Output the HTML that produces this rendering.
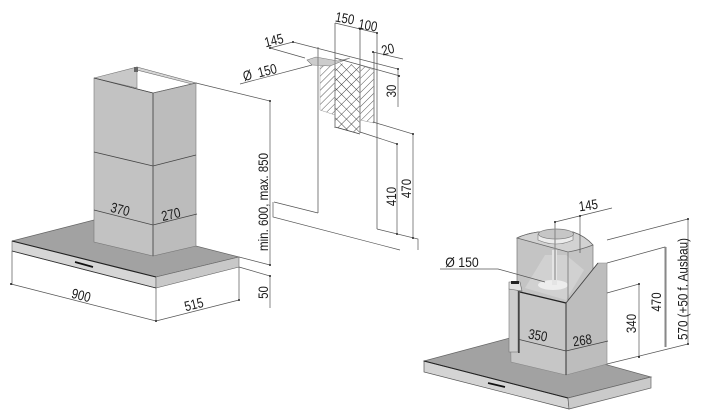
<!DOCTYPE html>
<html><head><meta charset="utf-8"><style>
html,body{margin:0;padding:0;background:#fff;width:701px;height:420px;overflow:hidden}
svg{display:block}
text{font-family:"Liberation Sans",sans-serif;font-size:14px;fill:#1a1a1a;text-anchor:middle}
.d{stroke:#555;stroke-width:.7;fill:none}
.l{stroke:#8a8a8a;stroke-width:1.1;fill:none}
.k{stroke:#444;stroke-width:.8;fill:none}
</style></head><body>
<svg width="701" height="420" viewBox="0 0 701 420">
<defs>
<pattern id="h1" width="5" height="5" patternUnits="userSpaceOnUse" patternTransform="rotate(45)"><rect width="5" height="5" fill="#fff"/><line x1="0" y1="0" x2="0" y2="5" stroke="#555" stroke-width="1"/></pattern>
<pattern id="h2" width="7" height="7" patternUnits="userSpaceOnUse" patternTransform="rotate(45)"><rect width="7" height="7" fill="#fff"/><path d="M0 0V7M0 0H7" stroke="#444" stroke-width="1"/></pattern>
</defs>

<!-- LEFT HOOD -->
<polygon points="12,241 94,220 239,257 156,277" fill="#a2a2a2" stroke="#666" stroke-width=".7"/>
<polygon points="12,241 156,277 156,288 12,251" fill="#d6d6d6" stroke="#666" stroke-width=".6"/>
<polygon points="156,277 239,257 239,267 156,288" fill="#c8c8c8" stroke="#666" stroke-width=".6"/>
<line x1="12" y1="241" x2="156" y2="277" stroke="#222" stroke-width="1.1"/>
<line x1="12" y1="251" x2="156" y2="288" stroke="#333" stroke-width=".9"/>
<line x1="75" y1="262" x2="93" y2="267" stroke="#111" stroke-width="1.7"/>
<polygon points="94,78 137,67 137,88" fill="#c8c8c8" stroke="#777" stroke-width=".6"/>
<polygon points="137,67 196,83 192,84 137,70" fill="#d5d5d5" stroke="#666" stroke-width=".6"/>
<polygon points="94,78 153,93 153,256 94,242" fill="#c2c2c2" stroke="#777" stroke-width=".6"/>
<polygon points="153,93 196,83 196,246 153,256" fill="#bcbcbc" stroke="#777" stroke-width=".6"/>
<polyline points="94,152 153,166 196,155" class="k"/>
<polyline points="94,210 153,225 197,214" class="k"/>
<rect x="134" y="67" width="4" height="5" fill="#666"/>
<line x1="94" y1="78" x2="153" y2="93" stroke="#444" stroke-width=".8"/>
<line x1="153" y1="93" x2="196" y2="83" stroke="#666" stroke-width=".7"/>
<line x1="153" y1="93" x2="153" y2="256" stroke="#555" stroke-width="1"/>

<!-- left dims -->
<path class="d" d="M196,83 L270,101 V265 M239,257 L270,265 M239,267 L270,276 V308"/>
<path class="d" d="M12,251 V285 M156,288 V322 M239,267 V300 M11,284 L156,321 L239,300"/>
<g fill="#222"><circle cx="270" cy="101" r="1"/><circle cx="270" cy="265" r="1"/><circle cx="270" cy="276" r="1"/><circle cx="156" cy="321" r="1"/><circle cx="11" cy="284" r="1"/><circle cx="239" cy="300" r="1"/></g>
<text transform="translate(119,214) rotate(14) scale(.82,1)">370</text>
<text transform="translate(172,219) rotate(-13) scale(.82,1)">270</text>
<text transform="translate(80,300) rotate(14) scale(.82,1)">900</text>
<text transform="translate(195,309) rotate(-14) scale(.82,1)">515</text>
<text transform="translate(268,202) rotate(-90)" textLength="98" lengthAdjust="spacingAndGlyphs">min. 600, max. 850</text>
<text transform="translate(268,292.5) rotate(-90) scale(.82,1)">50</text>

<!-- CENTER WALL -->
<polygon points="320,67 335,63 335,115 320,110" fill="url(#h1)" stroke="#999" stroke-width=".5"/>
<polygon points="360,65 374,70 374,123 360,120" fill="url(#h1)" stroke="#999" stroke-width=".5"/>
<polygon points="335,63 360,65 360,134 335,127" fill="url(#h2)"/>
<path d="M335,127 L360,134" stroke="#444" stroke-width=".9"/>
<path d="M307,60 L316,57 L338,61 L350,58 L330,66 L312,65 Z" fill="#ccc" stroke="#777" stroke-width=".6"/>
<path class="l" d="M335,23 V128 M360,29 V133 M377,33 V229 M374,52 V122 M318,47 V213"/>
<path class="d" d="M274,202 L318,213 M273,202 V217 L400,250 M377,229 L418,239 V250"/>
<path class="d" d="M360,132 L397,144 V234 M373,122 L413,134 V238"/>
<path class="d" d="M270,48 L293,42 L398,69 V107 M270,48 L305,58 M335,58 L400,76 M373,52 L403,59"/>
<path class="d" d="M335,23 L377,33 M240,84 L312,65"/>
<g fill="#222"><circle cx="293" cy="42" r="1"/><circle cx="270" cy="48" r="1"/><circle cx="360" cy="29" r="1"/><circle cx="377" cy="33" r="1"/><circle cx="373" cy="52" r="1"/><circle cx="398" cy="69" r="1"/><circle cx="399" cy="76" r="1"/><circle cx="397" cy="144" r="1"/><circle cx="413" cy="134" r="1"/><circle cx="397" cy="234" r="1"/><circle cx="413" cy="238" r="1"/></g>
<text transform="translate(344,23) rotate(10) scale(.82,1)">150</text>
<text transform="translate(367,30) rotate(10) scale(.82,1)">100</text>
<text transform="translate(389,54) rotate(-14) scale(.82,1)">20</text>
<text transform="translate(275,45) rotate(-14) scale(.82,1)">145</text>
<text transform="translate(261,77) rotate(-14) scale(.82,1)">Ø&#160;&#160;150</text>
<text transform="translate(396,91) rotate(-90) scale(.82,1)">30</text>
<text transform="translate(396,196.5) rotate(-90) scale(.82,1)">410</text>
<text transform="translate(411,188.5) rotate(-90) scale(.82,1)">470</text>

<!-- RIGHT HOOD -->
<polygon points="424,361 510,338 651,377 568,398" fill="#a2a2a2" stroke="#666" stroke-width=".7"/>
<polygon points="424,361 568,398 569,409 424,372" fill="#d4d4d4" stroke="#555" stroke-width=".7"/>
<polygon points="568,398 651,377 651,388 569,409" fill="#cacaca" stroke="#666" stroke-width=".7"/>
<line x1="424" y1="361" x2="568" y2="398" stroke="#222" stroke-width="1.1"/>
<line x1="488" y1="383" x2="505" y2="387" stroke="#111" stroke-width="1.7"/>

<!-- glass box -->
<path d="M517,238 Q525,234 538,232 L573,232 Q585,236 593,245 V273 L566,303 L520,292 L517,282 Z" fill="#c4c4c4" stroke="#777" stroke-width=".7"/>
<path d="M517,238 Q525,234 538,232 L573,232 Q585,236 593,245 Q580,250 568,252 Z" fill="#d2d2d2" stroke="#666" stroke-width=".7"/>
<polygon points="545,255 566,255 584,270 566,300 525,288" fill="#d6d6d6" opacity=".75"/>
<ellipse cx="553" cy="285" rx="15" ry="5" fill="#ededed"/>
<rect x="552" y="250" width="5" height="35" fill="#e4e4e4"/>
<path d="M538,234 V240 Q556,248 573,240 V234" fill="#ececec" stroke="#777" stroke-width=".6"/>
<ellipse cx="556" cy="234" rx="17.5" ry="5" fill="#c6c6c6" stroke="#777" stroke-width=".7"/>
<line x1="568" y1="252" x2="568" y2="300" stroke="#888" stroke-width="1"/>

<!-- body -->
<polygon points="510,290 566,303 566,375 511,362" fill="#c6c6c6" stroke="#888" stroke-width=".6"/>
<polygon points="566,303 598,263 607,263 607,364 566,375" fill="#bdbdbd" stroke="#888" stroke-width=".6"/>
<line x1="520" y1="292" x2="566" y2="303" stroke="#222" stroke-width="1.3"/>
<line x1="566" y1="303" x2="598" y2="263" stroke="#444" stroke-width=".9"/>
<line x1="566" y1="303" x2="566" y2="375" stroke="#333" stroke-width="1"/>
<polyline points="509,337 566,351 608,341" class="k"/>
<rect x="509" y="289" width="9" height="63" fill="#cdcdcd" stroke="#777" stroke-width=".6"/>
<polygon points="509,282 520,282 522,291 509,289" fill="#e2e2e2" stroke="#666" stroke-width=".6"/>
<rect x="511" y="281" width="8" height="3" fill="#222"/>
<rect x="518" y="291" width="1.7" height="62" fill="#444"/>

<!-- right dims -->
<path class="d" d="M555,222 L612,208 M580,215 V253 M607,240 L688,219 V344 M607,263 L665,247 V347 M607,293 L639,284 V357 M607,364 L688,344"/>
<path class="l" d="M555,222 V280 M666,247 V347"/>
<path class="d" d="M440,269 H498 L545,282"/>
<g fill="#222"><circle cx="688" cy="219" r="1"/><circle cx="688" cy="344" r="1"/><circle cx="639" cy="284" r="1"/><circle cx="639" cy="357" r="1"/><circle cx="555" cy="222" r="1"/><circle cx="580" cy="216" r="1"/></g>
<text transform="translate(589,210) rotate(-8) scale(.82,1)">145</text>
<text transform="translate(462,267) scale(.88,1)">Ø 150</text>
<text transform="translate(537,340) rotate(10) scale(.82,1)">350</text>
<text transform="translate(583,345) rotate(-8) scale(.82,1)">268</text>
<text transform="translate(636,323.5) rotate(-90) scale(.82,1)">340</text>
<text transform="translate(661,302) rotate(-90) scale(.82,1)">470</text>
<text transform="translate(687.5,289) rotate(-90)" textLength="102" lengthAdjust="spacingAndGlyphs">570 (+50 f. Ausbau)</text>
</svg>
</body></html>
